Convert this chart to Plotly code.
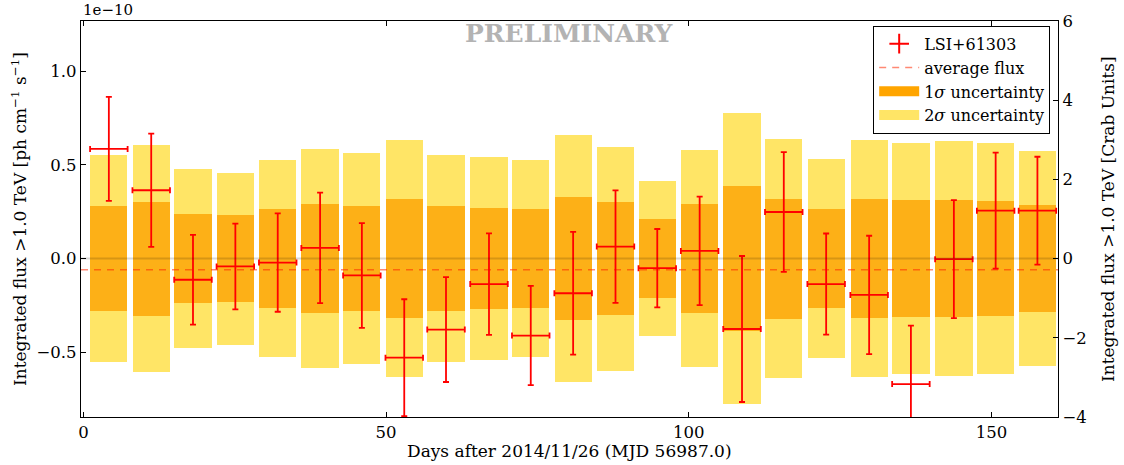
import plotly.graph_objects as go

# ---- data (flux in units of 1e-10 ph cm^-1 s^-1) ----
days = [4.2, 11.2, 18.1, 25.1, 32.1, 39.1, 46.0, 53.0, 59.9, 67.0, 73.9, 80.9,
        87.9, 94.8, 101.8, 108.8, 115.7, 122.7, 129.8, 136.7, 143.8, 150.7, 157.6]
flux = [0.586, 0.365, -0.113, -0.042, -0.021, 0.057, -0.090, -0.529, -0.379, -0.136,
        -0.411, -0.185, 0.064, -0.051, 0.041, -0.376, 0.249, -0.136, -0.194, -0.670,
        -0.003, 0.256, 0.256]
flux_err = [0.278, 0.302, 0.240, 0.229, 0.263, 0.295, 0.280, 0.312, 0.280, 0.271,
            0.265, 0.328, 0.300, 0.209, 0.290, 0.390, 0.320, 0.270, 0.316, 0.312,
            0.315, 0.310, 0.288]
sigma1 = [0.279, 0.304, 0.238, 0.231, 0.265, 0.291, 0.282, 0.316, 0.279, 0.268,
          0.265, 0.328, 0.300, 0.210, 0.289, 0.386, 0.321, 0.265, 0.316, 0.312,
          0.311, 0.307, 0.284]
sigma2 = [0.554, 0.607, 0.480, 0.459, 0.528, 0.584, 0.565, 0.633, 0.554, 0.542,
          0.528, 0.660, 0.598, 0.416, 0.580, 0.776, 0.640, 0.533, 0.632, 0.617,
          0.626, 0.616, 0.575]
avg_flux = -0.060
bin_halfwidth = 3.1
bar_width = 6.15

x_range = [-0.4, 161.0]
y_range = [-0.846, 1.269]
y2_range = [-4, 6]
y_ticks = [-0.5, 0.0, 0.5, 1.0]
y2_ticks = [-4, -2, 0, 2, 4, 6]
x_ticks = [0, 50, 100, 150]

FONT = "DejaVu Serif"
ORANGE = "#FDB017"
ORANGE_LEG = "#FFA500"
YELLOW = "#FFE566"

fig = go.Figure()

# 2 sigma band
fig.add_trace(go.Bar(
    x=days, y=[2 * s for s in sigma2], base=[-s for s in sigma2],
    width=bar_width, marker=dict(color=YELLOW, line=dict(width=0)),
    showlegend=False, hoverinfo="skip"))
# 1 sigma band
fig.add_trace(go.Bar(
    x=days, y=[2 * s for s in sigma1], base=[-s for s in sigma1],
    width=bar_width, marker=dict(color=ORANGE, line=dict(width=0)),
    showlegend=False, hoverinfo="skip"))

# average flux line
fig.add_trace(go.Scatter(
    x=x_range, y=[avg_flux, avg_flux], mode="lines",
    line=dict(color="rgba(255,40,0,0.55)", width=1.5, dash="7px,6px"),
    name="average flux", legendrank=2))

# data points with error bars
fig.add_trace(go.Scatter(
    x=days, y=flux, mode="markers",
    marker=dict(size=1, color="red"),
    error_y=dict(type="data", array=flux_err, color="red", thickness=1.8, width=3),
    error_x=dict(type="data", array=[bin_halfwidth] * len(days), color="red",
                 thickness=1.8, width=3),
    showlegend=False))

# legend-only entries
fig.add_trace(go.Scatter(
    x=[None], y=[None], mode="markers",
    marker=dict(symbol="cross-thin", size=14, color="red",
                line=dict(color="red", width=2)),
    name="LSI+61303", legendrank=1))
fig.add_trace(go.Scatter(
    x=[None], y=[None], mode="lines", line=dict(color=ORANGE_LEG, width=14),
    name="1<i>σ</i> uncertainty", legendrank=3))
fig.add_trace(go.Scatter(
    x=[None], y=[None], mode="lines", line=dict(color=YELLOW, width=14),
    name="2<i>σ</i> uncertainty", legendrank=4))

# right axis (Crab units) dummy trace
fig.add_trace(go.Scatter(x=[None], y=[None], yaxis="y2", showlegend=False,
                         hoverinfo="skip"))

# zero line
fig.add_shape(type="line", xref="paper", x0=0, x1=1, yref="y", y0=0, y1=0,
              line=dict(color="rgba(0,0,0,0.15)", width=2), layer="above")

axis_common = dict(showline=True, linecolor="black", linewidth=1.2,
                   ticks="inside", ticklen=5, tickcolor="black", tickwidth=1,
                   showgrid=False, zeroline=False,
                   tickfont=dict(family=FONT, size=16.5, color="black"))

fig.update_layout(
    width=1124, height=465,
    margin=dict(l=80.5, r=66, t=17, b=48),
    paper_bgcolor="white", plot_bgcolor="white",
    barmode="overlay", bargap=0,
    font=dict(family=FONT, size=15, color="black"),
    xaxis=dict(range=x_range, tickvals=x_ticks, mirror="ticks", **axis_common),
    yaxis=dict(range=y_range, tickvals=y_ticks, tickformat=".1f", **axis_common),
    yaxis2=dict(range=y2_range, tickvals=y2_ticks, overlaying="y", side="right",
                **axis_common),
    legend=dict(x=0.992, xanchor="right", y=0.988, yanchor="top",
                bordercolor="black", borderwidth=1, bgcolor="white",
                font=dict(family=FONT, size=16, color="black"),
                traceorder="normal", itemwidth=40),
    showlegend=True,
)

fig.add_annotation(text="PRELIMINARY", xref="paper", yref="paper", x=0.5, y=1,
                   yshift=-12, xanchor="center", yanchor="middle", showarrow=False,
                   font=dict(family=FONT, size=25, color="#b3b3b3", weight="bold"))
fig.add_annotation(text="1e−10", xref="paper", yref="paper", x=0, y=1,
                   xanchor="left", yanchor="bottom", yshift=0, showarrow=False,
                   font=dict(family=FONT, size=15))
fig.add_annotation(text="Integrated flux >1.0 TeV [ph cm<sup>−1</sup> s<sup>−1</sup>]",
                   xref="paper", yref="paper", x=0, y=0.5, xshift=-62, textangle=-90,
                   xanchor="center", yanchor="middle", showarrow=False,
                   font=dict(family=FONT, size=17))
fig.add_annotation(text="Integrated flux >1.0 TeV [Crab Units]",
                   xref="paper", yref="paper", x=1, y=0.5, xshift=50, textangle=-90,
                   xanchor="center", yanchor="middle", showarrow=False,
                   font=dict(family=FONT, size=17))
fig.add_annotation(text="Days after 2014/11/26 (MJD 56987.0)",
                   xref="paper", yref="paper", x=0.5, y=0, yshift=-34,
                   xanchor="center", yanchor="middle", showarrow=False,
                   font=dict(family=FONT, size=17))

fig.write_html("out.html", config={"displayModeBar": False},
               post_script="document.body.style.margin='0';"
                           "document.body.style.overflow='hidden';")
